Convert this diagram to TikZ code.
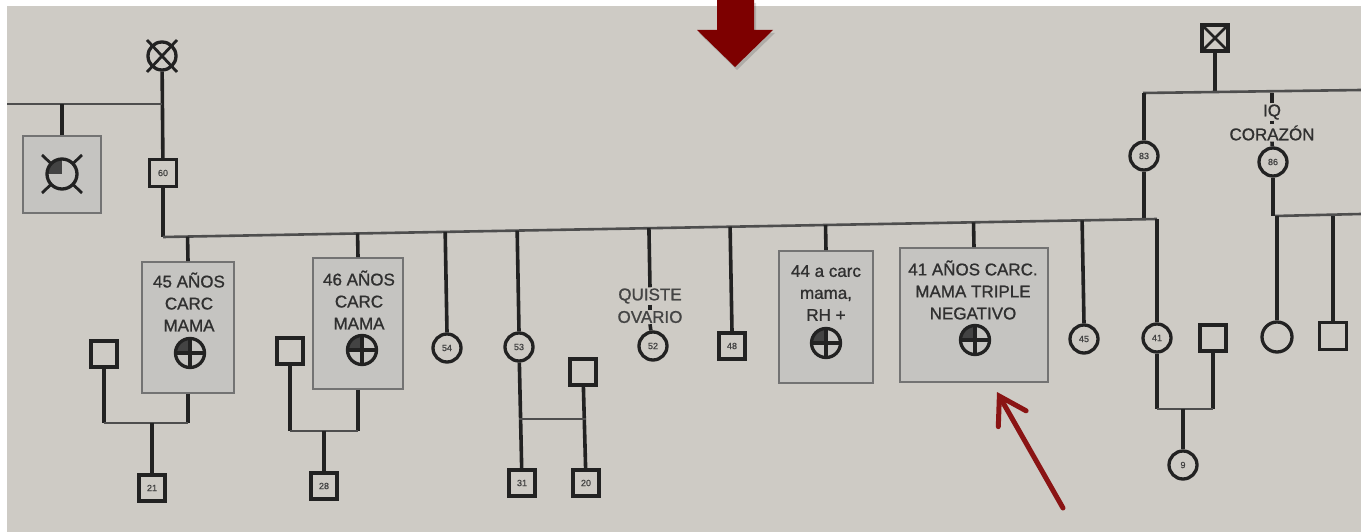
\documentclass[tikz,border=0pt]{standalone}
\usepackage{fontspec}
\setmainfont{Liberation Sans}
\usetikzlibrary{calc,arrows.meta}

\definecolor{paper}{RGB}{206,203,197}
\definecolor{boxfill}{RGB}{197,196,193}
\definecolor{boxedge}{RGB}{115,115,115}
\definecolor{ink}{RGB}{34,34,34}
\definecolor{lineink}{RGB}{78,78,78}
\definecolor{txt}{RGB}{48,48,48}
\definecolor{txtlight}{RGB}{68,68,68}
\definecolor{darkred}{RGB}{125,0,0}
\definecolor{arrowred}{RGB}{138,20,20}

\tikzset{
  male/.style={draw=ink, fill=paper, line width=3.3pt, minimum size=26pt, inner sep=0pt,
    font=\fontsize{9}{9}\selectfont\addfontfeature{FakeBold=1}, text=ink!85},
  female/.style={male, circle, minimum size=28pt},
  affected/.style={female, fill=boxfill, minimum size=29pt,
    path picture={
      \fill[ink!85] (path picture bounding box.center) rectangle (path picture bounding box.north west);
      \draw[ink, line width=3.3pt] (path picture bounding box.north) -- (path picture bounding box.south)
        (path picture bounding box.west) -- (path picture bounding box.east);}},
  xsquare/.style={male,
    path picture={
      \draw[ink, line width=2.5pt] (path picture bounding box.south west) -- (path picture bounding box.north east)
        (path picture bounding box.north west) -- (path picture bounding box.south east);}},
  link/.style={draw=ink, line width=3.6pt},
  sib/.style={draw=lineink, line width=2.6pt},
  hbox/.style={draw=boxedge, fill=boxfill, line width=1.7pt, inner sep=0pt},
  note/.style={font=\fontsize{17}{22}\selectfont\addfontfeature{FakeBold=1}, text=txt, align=center, inner sep=1pt},
}

\begin{document}
\begin{tikzpicture}[x=1pt, y=-1pt]
  \useasboundingbox (0,0) rectangle (1361,532);
  \fill[white] (0,0) rectangle (1361,532);
  \fill[paper] (7,6) rectangle (1361,532);

  % arrow from the top
  \fill[black, opacity=.15] (719,3) -- (756,3) -- (756,33) -- (775,33) -- (737,70) -- (699,33) -- (719,33) -- cycle;
  \fill[darkred] (717,0) -- (754,0) -- (754,30) -- (773,30) -- (735,67) -- (697,30) -- (717,30) -- cycle;

  % grandparents, left side
  \node[female] (gm) at (162,56) {};
  \draw[ink, line width=2.8pt] ($(gm)+(-15,-16)$) -- ($(gm)+(15,16)$) ($(gm)+(15,-16)$) -- ($(gm)+(-15,16)$);
  \node[male, minimum size=27pt] (f60) at (163,173) {60};
  \draw[link] (gm) -- (f60);
  \coordinate (ggL) at (7,104);
  \draw[sib] (ggL) -- (ggL -| gm);
  \node[hbox, minimum width=78pt, minimum height=77pt] (aunt) at (62,174.5) {};
  \draw[ink, line width=2.8pt] (42,155) -- (82,193) (82,155) -- (42,193);
  \node[female, fill=boxfill, minimum size=30pt,
    path picture={\fill[ink!85] (path picture bounding box.center) rectangle (path picture bounding box.north west);}]
    (auntsym) at (62,174) {};
  \draw[link] (aunt.north) -- (aunt.north |- ggL);

  % grandparents, right side
  \node[xsquare] (gf) at (1215,38) {};
  \coordinate (s2L) at (1143,93);
  \coordinate (s2R) at (1361,90);
  \draw[link] (gf) -- (gf |- s2L);
  \draw[sib] (s2L) -- (s2R);
  \node[female] (c83) at (1144,156) {83};
  \draw[link] (c83) -- (c83 |- s2L);
  \node[note] (iq) at (1272,112) {IQ};
  \node[note] (cor) at (1272,133) {CORAZÓN};
  \node[female] (c86) at (1273,162) {86};
  \draw[link] (iq.north) -- (iq.north |- s2L);
  \draw[link] (iq.south) -- (cor.north);
  \draw[link] (cor.south) -- (c86);
  \coordinate (s3L) at (1275,216);
  \coordinate (s3R) at (1361,214);
  \draw[link] (c86) -- (c86 |- s3L);
  \draw[sib] (s3L) -- (s3R);
  \node[female, minimum size=30pt] (cu) at (1277,337) {};
  \node[male, minimum size=27pt] (su) at (1333,336) {};
  \draw[link] (cu) -- (cu |- s3L);
  \draw[link] (su) -- (su |- s3L);

  % sibship line
  \coordinate (sibL) at (163,237);
  \coordinate (sibR) at (1157,219);
  \draw[link] (f60) -- (sibL);
  \draw[link] (c83) -- (c83 |- sibR);
  \draw[sib] (sibL) -- (sibR);

  % children
  \node[hbox, minimum width=92pt, minimum height=131pt] (b45) at (188,327.5) {};
  \node[note] at (189,302) {45 AÑOS\\CARC\\MAMA};
  \node[affected] (a45) at (190,353) {};

  \node[hbox, minimum width=90pt, minimum height=131pt] (b46) at (358,323.5) {};
  \node[note] at (359,300) {46 AÑOS\\CARC\\MAMA};
  \node[affected] (a46) at (362,350) {};

  \node[female] (c54) at (447,348) {54};
  \node[female] (c53) at (519,347) {53};

  \node[note, text=txtlight] (q52) at (650,296) {QUISTE};
  \node[note, text=txtlight] (o52) at (650,317) {OVARIO};
  \node[female] (c52) at (653,346) {52};
  \draw[link] (q52.south) -- (o52.north);
  \draw[link] (o52.south) -- (c52);

  \node[male] (s48) at (732,346) {48};

  \node[hbox, minimum width=94pt, minimum height=132pt] (b44) at (826,317) {};
  \node[note] at (826,293) {44 a carc\\mama,\\RH +};
  \node[affected] (a44) at (826,343) {};

  \node[hbox, minimum width=148pt, minimum height=134pt] (b41) at (974,315) {};
  \node[note] at (973,290) {41 AÑOS CARC.\\MAMA TRIPLE\\NEGATIVO};
  \node[affected] (a41) at (975,340) {};

  \node[female] (c45) at (1084,339) {45};
  \node[female] (c41) at (1157,338) {41};

  \foreach \k in {b45,b46,c54,c53,q52,s48,b44,b41,c45}
    \draw[link] (\k.north) -- ($(sibL)!(\k.north)!(sibR)$);
  \draw[link] (c41) -- (c41 |- sibR);

  % grandchildren
  \node[male] (sp45) at (104,354) {};
  \node[male] (s21) at (152,488) {21};
  \coordinate (m45) at (152,423);
  \draw[link] (sp45) -- (sp45 |- m45);
  \draw[link] (b45.south) -- (b45.south |- m45);
  \draw[sib] (sp45 |- m45) -- (b45.south |- m45);
  \draw[link] (m45) -- (s21);

  \node[male] (sp46) at (290,351) {};
  \node[male] (s28) at (324,486) {28};
  \coordinate (m46) at (324,431);
  \draw[link] (sp46) -- (sp46 |- m46);
  \draw[link] (b46.south) -- (b46.south |- m46);
  \draw[sib] (sp46 |- m46) -- (b46.south |- m46);
  \draw[link] (m46) -- (s28);

  \node[male] (sp53) at (583,372) {};
  \node[male] (s31) at (522,483) {31};
  \node[male] (s20) at (586,483) {20};
  \coordinate (m53) at (0,419);
  \draw[link] (c53) -- (s31);
  \draw[link] (sp53) -- (s20);
  \draw[sib] (c53 |- m53) -- (s20 |- m53);

  \node[male] (sp41) at (1213,338) {};
  \node[female] (c9) at (1183,465) {9};
  \coordinate (m41) at (1183,409);
  \draw[link] (c41) -- (c41 |- m41);
  \draw[link] (sp41) -- (sp41 |- m41);
  \draw[sib] (c41 |- m41) -- (sp41 |- m41);
  \draw[link] (m41) -- (c9);

  % pointer to the 41 box
  \coordinate (tail) at (1063,508);
  \coordinate (tip) at (997,392);
  \draw[arrowred, line width=5pt, line cap=round, -{Straight Barb[length=26pt,width=32pt,line cap=round]}] (tail) -- (tip);
\end{tikzpicture}
\end{document}
